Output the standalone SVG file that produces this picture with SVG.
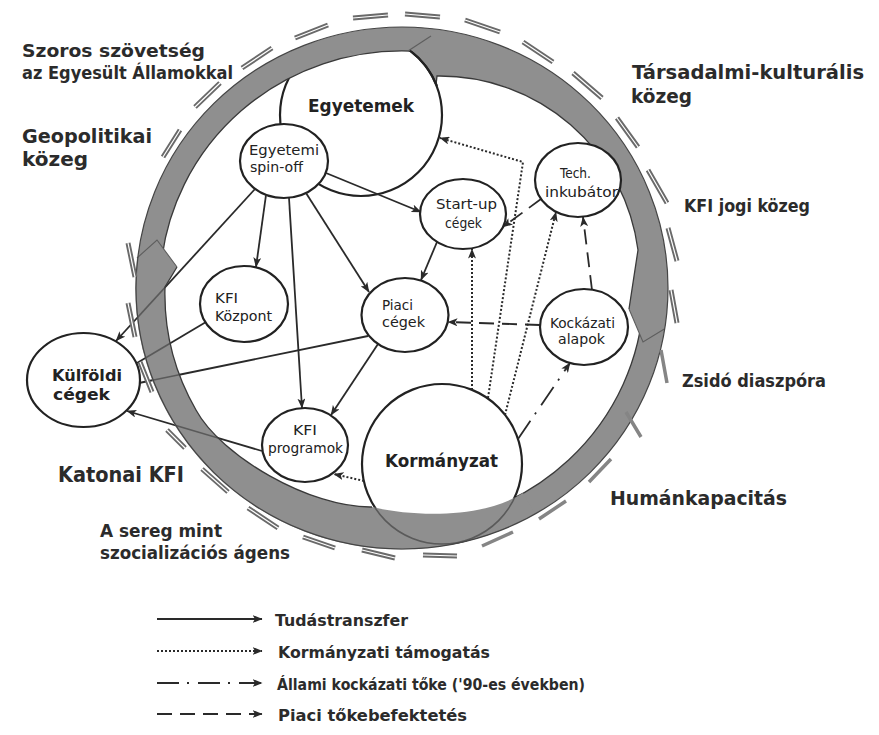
<svg xmlns="http://www.w3.org/2000/svg" xmlns:xlink="http://www.w3.org/1999/xlink" width="879" height="735" viewBox="0 0 879 735">
<style>
.band{fill:#8f8f8f;stroke:none}
.bedge{fill:none;stroke:#3a3a3a;stroke-width:1.3}
.bjoin{fill:none;stroke:#5e5e5e;stroke-width:1.1}
.node{fill:#fff;stroke:#222;stroke-width:2.2}
.conn{fill:none;stroke:#2a2a2a;stroke-width:1.8}
.dot{stroke-width:2;stroke-dasharray:2 2}
.dash{stroke-dasharray:15 8}
.dd{stroke-dasharray:22 8 2 9}
.ghost{fill:none;stroke:#5a5a5a;stroke-width:1.6}
.d2{stroke:#6a6a6a;stroke-width:5;fill:none}
.d2g{stroke:#fff;stroke-width:1.2;fill:none}
.d1{stroke:#858585;stroke-width:3.5;fill:none}
.lbl{font-family:"DejaVu Sans",sans-serif;font-weight:bold;fill:#2b2b2b}
.nt{font-family:"DejaVu Sans Condensed","DejaVu Sans",sans-serif;font-size:14px;fill:#222}
.ntb{font-family:"DejaVu Sans",sans-serif;font-weight:bold;fill:#222}
.lg{font-family:"DejaVu Sans",sans-serif;font-weight:bold;font-size:15px;fill:#2b2b2b}
</style>
<defs>
<marker id="ah" viewBox="0 0 10 8" refX="9.5" refY="4" markerWidth="10" markerHeight="8" markerUnits="userSpaceOnUse" orient="auto">
<path d="M0,0 L10,4 L0,8 L2.5,4 Z" fill="#2a2a2a"/>
</marker>
<path id="pL" d="M137,258 L157,240 L177,267 L165,287 A240 236 0 0 0 196,410 C221,456 310,508 372,507 C410,516 480,520 523,493 L535,514 A266 261 0 0 1 137,258 Z"/>
<clipPath id="clipL"><use xlink:href="#pL"/></clipPath>
</defs>

<g id="ring-back">
<path class="band" d="M667.6,301.7 A266 261 0 0 1 402,549 L402,525 A242 237 0 0 0 643.7,300.4 Z"/>
<path class="bedge" d="M643.7,300.4 A242 237 0 0 1 402,525"/>
<path class="band" d="M392.7,27.2 A266 261 0 0 1 664.7,328.8 L643,342 L629,309 L638,250 A200 200 0 0 0 437,76 L436,86 L425,66 L412,53 L405,40 Z"/>
<path class="bedge" d="M629,309 L638,250 A200 200 0 0 0 437,76 L436,85"/>
<path class="bjoin" d="M664.7,328.8 L643,342 L629,309"/>
</g>

<g id="node-egyetemek">
<circle class="node" cx="361" cy="115" r="81"/>
<text class="ntb" x="308" y="112" font-size="17" textLength="106" lengthAdjust="spacingAndGlyphs">Egyetemek</text>
</g>
<g id="node-spinoff">
<ellipse class="node" cx="284" cy="161" rx="44" ry="37"/>
<text class="nt" x="249" y="155" textLength="70" lengthAdjust="spacingAndGlyphs">Egyetemi</text>
<text class="nt" x="250" y="172" textLength="53" lengthAdjust="spacingAndGlyphs">spin-off</text>
</g>
<g id="node-kormanyzat">
<circle class="node" cx="442" cy="464" r="80"/>
<text class="ntb" x="385" y="467" font-size="17" textLength="113" lengthAdjust="spacingAndGlyphs">Kormányzat</text>
</g>

<g id="connectors">
<line class="conn" x1="326" y1="173" x2="421" y2="212" marker-end="url(#ah)"/>
<line class="conn" x1="266" y1="195" x2="256" y2="267" marker-end="url(#ah)"/>
<line class="conn" x1="289" y1="198" x2="302" y2="408" marker-end="url(#ah)"/>
<line class="conn" x1="306" y1="193" x2="369" y2="292" marker-end="url(#ah)"/>
<line class="conn" x1="255" y1="189" x2="116" y2="341" marker-end="url(#ah)"/>
<line class="conn" x1="437" y1="242" x2="421" y2="280" marker-end="url(#ah)"/>
<line class="conn" x1="378" y1="344" x2="331" y2="415" marker-end="url(#ah)"/>
<line class="conn" x1="262" y1="451" x2="127" y2="411" marker-end="url(#ah)"/>
<line class="conn" x1="206" y1="322" x2="137" y2="363"/>
<line class="conn" x1="368" y1="336" x2="139" y2="383"/>
<polyline class="conn dot" points="488,398 523,162 440,138" marker-end="url(#ah)"/>
<line class="conn dot" x1="472" y1="390" x2="472" y2="249" marker-end="url(#ah)"/>
<line class="conn dot" x1="505" y1="415" x2="556" y2="212" marker-end="url(#ah)"/>
<line class="conn dot" x1="364" y1="481" x2="334" y2="474" marker-end="url(#ah)"/>
<line class="conn dd" x1="518" y1="439" x2="570" y2="363" marker-end="url(#ah)"/>
<line class="conn dash" x1="540" y1="325" x2="448" y2="322" marker-end="url(#ah)"/>
<line class="conn dash" x1="592" y1="290" x2="583" y2="217" marker-end="url(#ah)"/>
<line class="conn dash" x1="541" y1="199" x2="503" y2="227" marker-end="url(#ah)"/>
</g>

<g id="ring-front">
<path class="band" d="M433,28.8 L433,52.9 A242 237 0 0 0 160.9,267.3 L137,265.3 A266 261 0 0 1 433,28.8 Z"/>
<path class="bedge" d="M410,51.1 A242 237 0 0 0 160.9,267.3"/>
<path class="bjoin" d="M408,51 L431,36"/>
<use xlink:href="#pL" class="band"/>
<g clip-path="url(#clipL)">
<circle class="ghost" cx="442" cy="464" r="80"/>
<line class="ghost" x1="255" y1="189" x2="116" y2="341"/>
<line class="ghost" x1="262" y1="451" x2="127" y2="411"/>
<line class="ghost" x1="206" y1="322" x2="137" y2="363"/>
<line class="ghost" x1="368" y1="336" x2="139" y2="383"/>
</g>
<path class="bjoin" d="M137,258 L157,240 L177,267"/>
<path class="bedge" d="M177,267 L165,287 A240 236 0 0 0 196,410 C221,456 310,508 372,507"/>
<ellipse cx="402" cy="288" rx="266" ry="261" fill="none" stroke="#454545" stroke-width="1.2"/>
</g>

<g id="node-egyetemek-edge">
<path d="M410,50.6 A81 81 0 0 1 437,86" fill="none" stroke="#222" stroke-width="2.2"/>
</g>

<g id="node-startup">
<ellipse class="node" cx="463" cy="214" rx="43" ry="35"/>
<text class="nt" x="436" y="209" textLength="61" lengthAdjust="spacingAndGlyphs">Start-up</text>
<text class="nt" x="445" y="228" textLength="37" lengthAdjust="spacingAndGlyphs">cégek</text>
</g>
<g id="node-tech">
<ellipse class="node" cx="578" cy="180" rx="43" ry="37"/>
<text class="nt" x="560" y="178" textLength="31" lengthAdjust="spacingAndGlyphs">Tech.</text>
<text class="nt" x="545" y="197" textLength="73" lengthAdjust="spacingAndGlyphs">inkubátor</text>
</g>
<g id="node-kfikozpont">
<ellipse class="node" cx="244" cy="304" rx="44" ry="38"/>
<text class="nt" x="215" y="303" textLength="23" lengthAdjust="spacingAndGlyphs">KFI</text>
<text class="nt" x="215" y="321" textLength="57" lengthAdjust="spacingAndGlyphs">Központ</text>
</g>
<g id="node-piaci">
<ellipse class="node" cx="405" cy="315" rx="43.5" ry="37"/>
<text class="nt" x="382" y="310" textLength="31" lengthAdjust="spacingAndGlyphs">Piaci</text>
<text class="nt" x="382" y="327" textLength="43" lengthAdjust="spacingAndGlyphs">cégek</text>
</g>
<g id="node-kockazati">
<ellipse class="node" cx="584" cy="327" rx="44" ry="38"/>
<text class="nt" x="550" y="328" textLength="65" lengthAdjust="spacingAndGlyphs">Kockázati</text>
<text class="nt" x="558" y="344" textLength="47" lengthAdjust="spacingAndGlyphs">alapok</text>
</g>
<g id="node-kulfoldi">
<ellipse class="node" cx="83.5" cy="380" rx="56.5" ry="47"/>
<text class="ntb" x="52" y="381" font-size="16" textLength="70" lengthAdjust="spacingAndGlyphs">Külföldi</text>
<text class="ntb" x="53" y="400" font-size="16" textLength="57" lengthAdjust="spacingAndGlyphs">cégek</text>
</g>
<g id="node-kfiprogramok">
<ellipse class="node" cx="305" cy="445" rx="43" ry="37"/>
<text class="nt" x="293" y="435" textLength="24" lengthAdjust="spacingAndGlyphs">KFI</text>
<text class="nt" x="268" y="453" textLength="75" lengthAdjust="spacingAndGlyphs">programok</text>
</g>

<g id="dashes">
<path class="d2" d="M163,157L180,130M195,107L220,83M242,68L272,48M295,38L328,25M353,18L388,15M405,14L440,17M465,20L500,32M523,42L553,62M573,73L602,98M617,118L638,147M648,170L667,203M668,228L677,261M671,290L677,323M423,555L457,556M362,550L395,558M303,537L335,548M248,508L278,528M202,469L228,492M167,430L185,448M140,362L152,392M128,303L135,337M128,243L135,277"/>
<path class="d2g" d="M163,157L180,130M195,107L220,83M242,68L272,48M295,38L328,25M353,18L388,15M405,14L440,17M465,20L500,32M523,42L553,62M573,73L602,98M617,118L638,147M648,170L667,203M668,228L677,261M671,290L677,323M423,555L457,556M362,550L395,558M303,537L335,548M248,508L278,528M202,469L228,492M167,430L185,448M140,362L152,392M128,303L135,337M128,243L135,277"/>
<path class="d1" d="M661,350L667,383M626,412L641,437M611,459L589,482M566,501L539,519M513,532L482,546"/>
</g>

<g id="labels">
<text class="lbl" x="22" y="57" font-size="18" textLength="183" lengthAdjust="spacingAndGlyphs">Szoros szövetség</text>
<text class="lbl" x="22" y="79" font-size="18" textLength="211" lengthAdjust="spacingAndGlyphs">az Egyesült Államokkal</text>
<text class="lbl" x="22" y="143" font-size="20" textLength="130" lengthAdjust="spacingAndGlyphs">Geopolitikai</text>
<text class="lbl" x="22" y="166" font-size="20" textLength="66" lengthAdjust="spacingAndGlyphs">közeg</text>
<text class="lbl" x="632" y="79" font-size="20" textLength="232" lengthAdjust="spacingAndGlyphs">Társadalmi-kulturális</text>
<text class="lbl" x="631" y="103" font-size="20" textLength="61" lengthAdjust="spacingAndGlyphs">közeg</text>
<text class="lbl" x="684" y="212" font-size="17" textLength="126" lengthAdjust="spacingAndGlyphs">KFI jogi közeg</text>
<text class="lbl" x="682" y="387" font-size="17" textLength="144" lengthAdjust="spacingAndGlyphs">Zsidó diaszpóra</text>
<text class="lbl" x="610" y="505" font-size="20" textLength="177" lengthAdjust="spacingAndGlyphs">Humánkapacitás</text>
<text class="lbl" x="58" y="482" font-size="21" textLength="126" lengthAdjust="spacingAndGlyphs">Katonai KFI</text>
<text class="lbl" x="100" y="537" font-size="18" textLength="122" lengthAdjust="spacingAndGlyphs">A sereg mint</text>
<text class="lbl" x="100" y="559" font-size="18" textLength="190" lengthAdjust="spacingAndGlyphs">szocializációs ágens</text>
</g>

<g id="legend">
<line class="conn" x1="157" y1="619" x2="262" y2="619" marker-end="url(#ah)"/>
<line class="conn dot" x1="157" y1="651" x2="262" y2="651" marker-end="url(#ah)"/>
<line class="conn dd" x1="157" y1="683" x2="262" y2="683" marker-end="url(#ah)"/>
<line class="conn dash" x1="157" y1="714" x2="262" y2="714" marker-end="url(#ah)"/>
<text class="lg" x="275" y="626" textLength="133" lengthAdjust="spacingAndGlyphs">Tudástranszfer</text>
<text class="lg" x="278" y="658" textLength="212" lengthAdjust="spacingAndGlyphs">Kormányzati támogatás</text>
<text class="lg" x="277" y="690" textLength="308" lengthAdjust="spacingAndGlyphs">Állami kockázati tőke ('90-es években)</text>
<text class="lg" x="278" y="721" textLength="189" lengthAdjust="spacingAndGlyphs">Piaci tőkebefektetés</text>
</g>
</svg>
